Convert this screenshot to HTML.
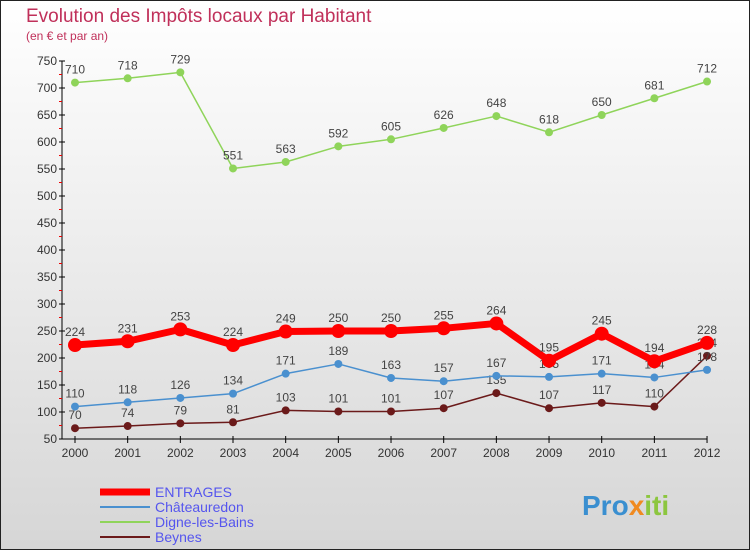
<!DOCTYPE html>
<html><head><meta charset="utf-8"><style>
body{margin:0}
#c{width:750px;height:550px;position:relative;overflow:hidden}
text{font-family:"Liberation Sans",sans-serif}
</style></head><body>
<div id="c">
<svg id="s" width="750" height="550" xmlns="http://www.w3.org/2000/svg">
<defs><linearGradient id="bg" x1="0" y1="0" x2="0" y2="1"><stop offset="0" stop-color="#ffffff"/><stop offset="1" stop-color="#d6d6d6"/></linearGradient></defs>
<rect x="0.5" y="0.5" width="749" height="549" fill="url(#bg)" stroke="#222"/>
<text x="26" y="22" font-size="19" fill="#c0305a">Evolution des Impôts locaux par Habitant</text>
<text x="26" y="40" font-size="12" fill="#c0305a">(en € et par an)</text>
<g id="axes"></g><g id="series"></g>
<g>
<line x1="100" y1="492" x2="150" y2="492" stroke="#f00" stroke-width="7"/>
<text x="155" y="497" font-size="14" fill="#5555ee">ENTRAGES</text>
<line x1="100" y1="507" x2="150" y2="507" stroke="#4a90cf" stroke-width="2"/>
<text x="155" y="512" font-size="14" fill="#5555ee">Châteauredon</text>
<line x1="100" y1="522" x2="150" y2="522" stroke="#8fd45a" stroke-width="2"/>
<text x="155" y="527" font-size="14" fill="#5555ee">Digne-les-Bains</text>
<line x1="100" y1="537" x2="150" y2="537" stroke="#6b1a1a" stroke-width="2"/>
<text x="155" y="542" font-size="14" fill="#5555ee">Beynes</text>
</g>
<text x="582" y="515" font-size="28" font-weight="bold" fill="#3a8fd0">Pro<tspan fill="#f08a20">x</tspan><tspan fill="#8cc63f">iti</tspan></text>
</svg></div>
<script>
const years=[2000,2001,2002,2003,2004,2005,2006,2007,2008,2009,2010,2011,2012];
const entrages=[224,231,253,224,249,250,250,255,264,195,245,194,228];
const chateauredon=[110,118,126,134,171,189,163,157,167,165,171,164,178];
const digne=[710,718,729,551,563,592,605,626,648,618,650,681,712];
const beynes=[70,74,79,81,103,101,101,107,135,107,117,110,204];
const yTicks=[50,100,150,200,250,300,350,400,450,500,550,600,650,700,750];
const NS="http://www.w3.org/2000/svg";
const X=i=>75+i*52.67;
const Y=v=>439-(v-50)*27/50;
function mk(tag,attrs,parent){const e=document.createElementNS(NS,tag);for(const k in attrs)e.setAttribute(k,attrs[k]);parent.appendChild(e);return e;}
const ax=document.getElementById('axes');
let e=mk('line',{x1:62,y1:Y(750),x2:62,y2:Y(50),stroke:'#000'},ax);


e=mk('line',{x1:62,y1:Y(50),x2:X(12),y2:Y(50),stroke:'#000'},ax);


yTicks.forEach(t=>{
 mk('line',{x1:59,y1:Y(t),x2:65,y2:Y(t),stroke:'#000'},ax);
 if(t<750) mk('line',{x1:59,y1:Y(t+25),x2:62,y2:Y(t+25),stroke:'#e00'},ax);
 const tx=mk('text',{x:57,y:Y(t)+4,'font-size':12,'text-anchor':'end',fill:'#333'},ax);
 tx.textContent=t;
 
 
});
years.forEach((y,i)=>{
 mk('line',{x1:X(i),y1:Y(50)-3,x2:X(i),y2:Y(50)+4,stroke:'#000'},ax);
 const tx=mk('text',{x:X(i),y:Y(50)+18,'font-size':12,'text-anchor':'middle',fill:'#333'},ax);
 tx.textContent=y;
 
 
});
const sg=document.getElementById('series');
function series(vals,color,w,r,name){
 const g=mk('g',{},sg);
 
 
 mk('polyline',{points:vals.map((v,i)=>X(i)+','+Y(v)).join(' '),fill:'none',stroke:color,'stroke-width':w,'stroke-linejoin':'round'},g);
 vals.forEach((v,i)=>{
  const c=mk('circle',{cx:X(i),cy:Y(v),r:r,fill:color},g);
  
  
  const t=mk('text',{x:X(i),y:Y(v)-9,'font-size':12,'text-anchor':'middle',fill:'#444'},g);
  t.textContent=v;
  
  
 });
}
series(digne,'#8fd45a',1.5,4,'digne-series');
series(beynes,'#6b1a1a',1.5,4,'beynes-series');
series(chateauredon,'#4a90cf',1.5,4,'chateauredon-series');
series(entrages,'#f00',7,7,'entrages-series');
</script>
</body></html>
